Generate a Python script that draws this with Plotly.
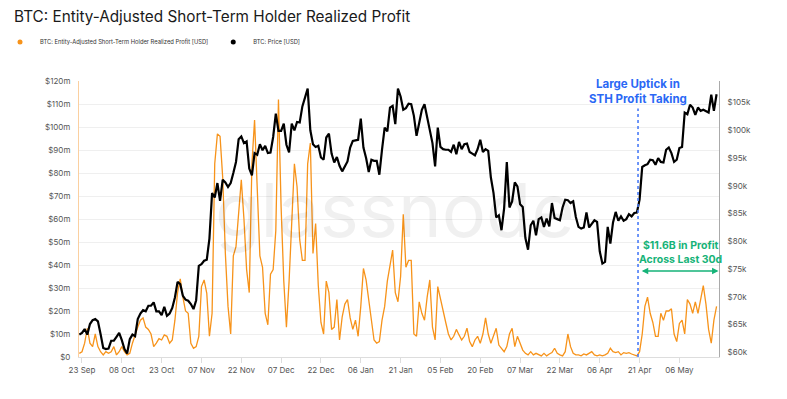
import pandas as pd
import plotly.graph_objects as go

# ---------------- data ----------------
START_DATE = "2024-09-22"
END_DATE = "2025-05-20"

# Entity-adjusted STH realized profit, USD millions (daily reading of chart)
sth_profit_musd = [
    1.6, 2.3, 6, 12.5, 6, 4.5, 10, 4.5, 2.3, 0.9,
    2.3, 1.6, 2.3, 4.5, 0.9, 2.3, 4.5, 2.3, 0.9, 1.6,
    6, 10, 13, 16, 17, 13, 12, 10, 4.5, 6,
    8, 7.4, 9.6, 9, 6, 7.4, 16, 28, 34, 26,
    20, 19, 6, 3.8, 4.5, 9, 30.6, 33.5, 27.7, 9,
    19, 84, 97, 96, 78, 45, 22, 10, 44, 48,
    62, 77, 60, 38, 28, 84, 103, 70, 44, 39,
    19, 14, 36, 38, 55, 112, 65, 33, 13, 33,
    60, 84, 74, 51, 42, 42, 84, 93, 45, 58,
    31, 15, 10, 33, 28, 12, 13, 25, 7.4, 17.5,
    23, 25, 17, 12, 16, 9, 22, 38.5, 33.5, 25,
    16, 7.4, 6, 6.7, 16, 22, 33, 39, 46.5, 28,
    24, 35, 62, 39, 42, 42, 10, 9, 24, 19,
    16, 26, 33.5, 13, 7.4, 30.6, 25, 19, 15, 10,
    7.4, 9, 12, 9.6, 7.4, 9, 12.5, 6.7, 4.5, 7.4,
    9, 6, 10, 17, 10, 6, 9, 12.5, 5.2, 3.8,
    2.3, 4.5, 10, 12.5, 4.5, 9, 6, 3, 1.6, 0.9,
    2.3, 0.9, 1.6, 0.9, 0.5, 1.6, 0.5, 1.3, 1.9, 3.8,
    1.6, 0.9, 0.5, 2.3, 10, 4.5, 1.6, 0.9, 0.9, 0.5,
    1.3, 0.9, 1.6, 2.3, 0.9, 0.5, 0.9, 0.5, 0.9, 1.6,
    3.8, 2.3, 1.9, 2.3, 0.9, 1.9, 1.6, 1.9, 1.3, 0.9,
    0.5, 2.3, 10, 22, 26, 19, 15, 9, 9, 19,
    16, 20, 20, 21, 10, 6.7, 14.6, 16, 10, 25,
    23, 19, 24, 19, 26, 31, 23, 12, 6, 16,
    22,
]

# BTC price, USD thousands (daily)
btc_price_kusd = [
    # Sep 22-30
    63.2, 63.5, 64.2, 63.2, 65.1, 65.8, 66.0, 65.6, 63.3,
    # Oct
    60.8, 60.6, 60.7, 62.1, 62.1, 62.8, 63.5, 62.2, 60.6, 59.8,
    62.4, 63.2, 62.9, 66.0, 67.0, 67.6, 67.4, 68.4, 68.4, 69.0,
    67.4, 67.4, 66.7, 68.2, 66.6, 67.0, 68.0, 69.9, 72.7, 72.3,
    70.2,
    # Nov
    69.5, 69.3, 68.7, 67.8, 69.4, 75.6, 75.9, 76.5, 76.7, 80.5,
    88.7, 87.9, 90.5, 87.3, 91.1, 90.6, 89.8, 90.5, 92.3, 94.3,
    98.4, 98.9, 97.7, 98.0, 93.1, 91.9, 95.9, 95.6, 97.5, 96.4,
    # Dec
    97.2, 95.9, 96.0, 98.8, 103.0, 99.9, 99.9, 101.2, 97.4, 96.0,
    101.2, 100.0, 101.5, 101.4, 104.3, 106.0, 107.5, 100.0, 97.5, 97.0,
    97.2, 95.1, 94.7, 98.7, 99.4, 95.8, 94.2, 95.2, 93.6, 92.6,
    93.4,
    # Jan
    94.4, 96.9, 98.1, 98.2, 98.3, 102.1, 96.9, 95.0, 92.5, 94.7,
    94.5, 94.5, 92.0, 96.5, 100.5, 99.8, 104.1, 104.4, 101.1, 107.5,
    106.1, 103.7, 104.0, 104.8, 104.7, 102.6, 99.0, 101.3, 103.7, 104.7,
    102.4,
    # Feb
    100.6, 97.7, 93.5, 100.5, 97.0, 96.6, 96.5, 96.5, 96.1, 97.4,
    95.7, 97.9, 96.6, 97.5, 97.6, 96.1, 95.8, 95.5, 96.6, 98.3,
    96.1, 96.6, 96.3, 91.5, 88.7, 84.3, 84.7, 82.0,
    # Mar
    86.0, 94.3, 86.1, 87.2, 90.6, 89.9, 86.7, 86.2, 80.6, 78.5,
    82.9, 83.7, 81.1, 84.0, 84.3, 82.6, 84.1, 82.7, 86.9, 84.2,
    84.0, 83.8, 86.1, 87.5, 87.4, 86.9, 87.2, 84.4, 82.6, 82.3,
    82.5,
    # Apr
    85.2, 82.5, 83.1, 83.8, 83.5, 78.2, 76.0, 76.3, 82.6, 79.6,
    83.4, 85.3, 83.7, 84.5, 83.7, 84.0, 84.9, 84.5, 85.1, 85.2,
    87.5, 93.4, 93.7, 93.9, 94.7, 94.6, 93.8, 95.0, 94.3, 94.2,
    # May 1-20
    96.5, 96.9, 95.9, 94.3, 94.7, 96.8, 97.0, 103.2, 102.9, 104.6,
    104.1, 102.8, 104.1, 103.5, 103.7, 103.5, 103.2, 106.4, 103.5, 106.5,
]

left_tick_vals = [0, 10, 20, 30, 40, 50, 60, 70, 80, 90, 100, 110, 120]
left_tick_text = ["$0", "$10m", "$20m", "$30m", "$40m", "$50m", "$60m",
                  "$70m", "$80m", "$90m", "$100m", "$110m", "$120m"]
right_tick_vals = [60, 65, 70, 75, 80, 85, 90, 95, 100, 105]
right_tick_text = ["$60k", "$65k", "$70k", "$75k", "$80k", "$85k",
                   "$90k", "$95k", "$100k", "$105k"]
x_tick_dates = ["2024-09-23", "2024-10-08", "2024-10-23", "2024-11-07",
                "2024-11-22", "2024-12-07", "2024-12-22", "2025-01-06",
                "2025-01-21", "2025-02-05", "2025-02-20", "2025-03-07",
                "2025-03-22", "2025-04-06", "2025-04-21", "2025-05-06"]
x_tick_text = ["23 Sep", "08 Oct", "23 Oct", "07 Nov", "22 Nov", "07 Dec",
               "22 Dec", "06 Jan", "21 Jan", "05 Feb", "20 Feb", "07 Mar",
               "22 Mar", "06 Apr", "21 Apr", "06 May"]

TITLE = "BTC: Entity-Adjusted Short-Term Holder Realized Profit"
NAME_PROFIT = "BTC: Entity-Adjusted Short-Term Holder Realized Profit [USD]"
NAME_PRICE = "BTC: Price [USD]"
NOTE_UPTICK = "<b>Large Uptick in<br>STH Profit Taking</b>"
NOTE_PROFIT = "<b>$11.6B in Profit<br>Across Last 30d</b>"
UPTICK_DATE = "2025-04-20 10:00"
ARROW_START = "2025-04-21 06:00"
ARROW_END = "2025-05-20 18:00"

# ---------------- figure ----------------
dates = pd.date_range(START_DATE, END_DATE, freq="D")
ORANGE = "#f7931a"
FONT = "Inter"

fig = go.Figure()
fig.add_trace(go.Scatter(
    x=dates, y=btc_price_kusd, name=NAME_PRICE, yaxis="y2",
    mode="lines", line=dict(color="#000000", width=2.2),
    showlegend=False,
))
fig.add_trace(go.Scatter(
    x=dates, y=sth_profit_musd, name=NAME_PROFIT, yaxis="y",
    mode="lines", line=dict(color=ORANGE, width=1.3),
    showlegend=False,
))
# legend entries (dot markers as in the reference)
fig.add_trace(go.Scatter(
    x=[None], y=[None], name=NAME_PROFIT, mode="markers",
    marker=dict(color=ORANGE, size=5), legendrank=1,
))
fig.add_trace(go.Scatter(
    x=[None], y=[None], name=NAME_PRICE, mode="markers", yaxis="y2",
    marker=dict(color="#000000", size=5), legendrank=2,
))

fig.update_layout(
    width=787, height=399,
    margin=dict(l=79, r=68, t=81, b=42),
    paper_bgcolor="white", plot_bgcolor="white",
    font=dict(family=FONT, size=8, color="#555555"),
    title=dict(text=TITLE, x=14 / 787, xref="container", xanchor="left",
               y=1 - 17 / 399, yref="container", yanchor="middle",
               font=dict(family=FONT, size=15.3, color="#1a1a1a")),
    showlegend=True,
    legend=dict(orientation="h", xref="paper", x=-83 / 640,
                xanchor="left", yref="container", y=1 - 42 / 399,
                yanchor="middle",
                font=dict(family=FONT, size=5.8, color="#333333"),
                bgcolor="rgba(0,0,0,0)", traceorder="normal"),
    xaxis=dict(
        type="date", range=["2024-09-21 21:00", "2025-05-20 22:00"],
        tickmode="array", tickvals=x_tick_dates, ticktext=x_tick_text,
        showgrid=False, showline=True, linecolor="#dddddd", linewidth=1,
        ticks="outside", ticklen=5, tickcolor="#dddddd",
        tickfont=dict(size=8, color="#555555"), zeroline=False,
    ),
    yaxis=dict(
        range=[0, 120], tickmode="array", tickvals=left_tick_vals,
        ticktext=left_tick_text, showgrid=True, gridcolor="#efefef",
        showline=True, linecolor="#fbd0a0", linewidth=1, zeroline=False,
        ticks="", ticklabelstandoff=6,
        tickfont=dict(size=8, color="#555555"),
    ),
    yaxis2=dict(
        range=[59.17, 108.88], overlaying="y", side="right",
        tickmode="array", tickvals=right_tick_vals, ticktext=right_tick_text,
        showgrid=False, showline=True, linecolor="#aaaaaa", linewidth=1,
        zeroline=False, ticks="", ticklabelstandoff=6,
        tickfont=dict(size=8, color="#555555"),
    ),
)

# watermark
fig.add_annotation(text="glassnode", xref="paper", yref="paper",
                   x=(395 - 79) / 640, y=(357 - 210) / 276,
                   showarrow=False, xanchor="center", yanchor="middle",
                   font=dict(family=FONT, size=74, color="rgba(0,0,0,0.06)"))

# dotted marker line
fig.add_shape(type="line", xref="x", yref="y", x0=UPTICK_DATE, x1=UPTICK_DATE,
              y0=0, y1=108, line=dict(color="#4a7cf7", width=1.6, dash="dot"))

fig.add_annotation(text=NOTE_UPTICK, xref="x", yref="paper", x=UPTICK_DATE,
                   y=(357 - 92) / 276, showarrow=False, xanchor="center",
                   yanchor="middle", align="center",
                   font=dict(family=FONT, size=11.5, color="#2a68f5"))

fig.add_annotation(text=NOTE_PROFIT, xref="paper", yref="paper",
                   x=(680 - 79) / 640, y=(357 - 252) / 276, showarrow=False,
                   xanchor="center", yanchor="middle", align="center",
                   font=dict(family=FONT, size=10.5, color="#16b378"))

fig.add_annotation(x=ARROW_END, y=37.4, ax=ARROW_START, ay=37.4,
                   xref="x", yref="y", axref="x", ayref="y", text="",
                   showarrow=True, arrowhead=2, arrowside="end+start",
                   arrowsize=1, arrowwidth=1.3, arrowcolor="#16b378")

fig.write_html("out.html",
               config={"displayModeBar": False},
               post_script="document.body.style.margin='0';")
